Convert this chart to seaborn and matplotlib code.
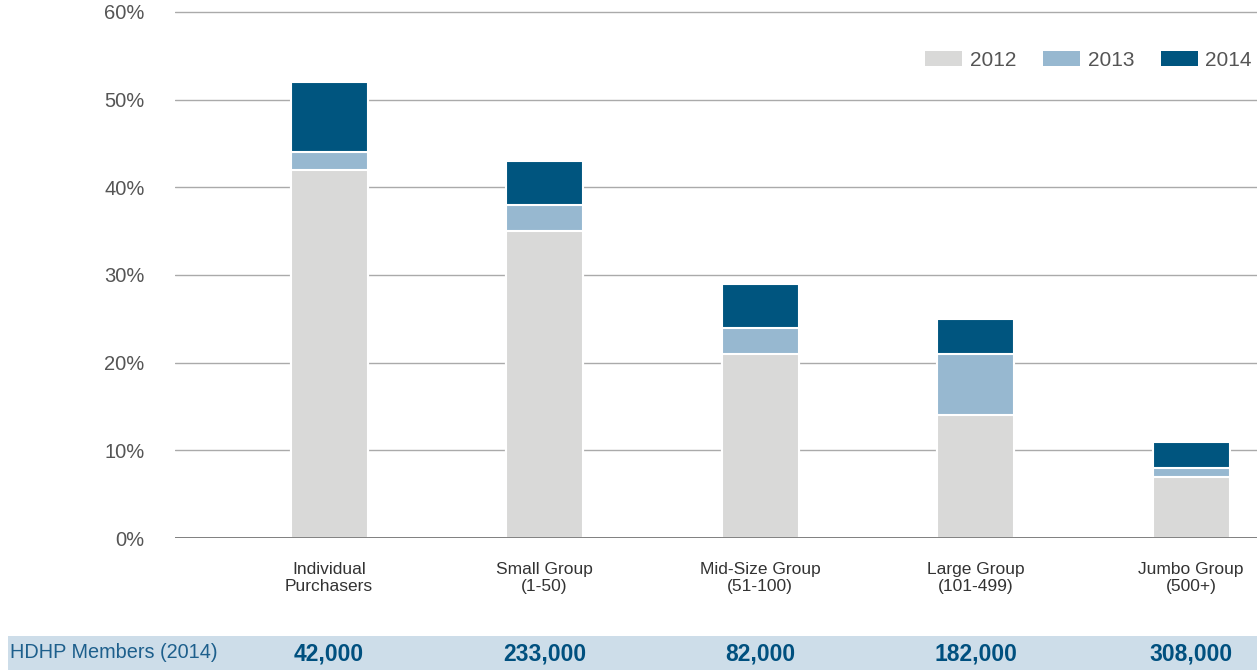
import matplotlib
matplotlib.use("Agg")
import matplotlib.pyplot as plt
import matplotlib.transforms as mtransforms
from matplotlib.patches import Rectangle, Patch
import seaborn as sns

categories = ["Individual\nPurchasers", "Small Group\n(1-50)", "Mid-Size Group\n(51-100)",
              "Large Group\n(101-499)", "Jumbo Group\n(500+)"]
share_2012 = [42, 35, 21, 14, 7]
share_2013 = [44, 38, 24, 21, 8]
share_2014 = [52, 43, 29, 25, 11]
years = ["2012", "2013", "2014"]
members_2014 = ["42,000", "233,000", "82,000", "182,000", "308,000"]
band_label = "HDHP Members (2014)"
yticks = [0, 10, 20, 30, 40, 50, 60]

col_2012 = "#d9d9d8"
col_2013 = "#97b8d0"
col_2014 = "#00557f"

sns.set_style("white")
plt.rcParams["font.family"] = ["Liberation Sans", "DejaVu Sans"]

W, H = 1257, 670
fig = plt.figure(figsize=(W / 100, H / 100), dpi=100)
ax = fig.add_axes([175 / W, 1 - 538 / H, 1 - 175 / W, (538 - 11) / H])

bw = 0.357
for vals, col in [(share_2014, col_2014), (share_2013, col_2013), (share_2012, col_2012)]:
    sns.barplot(x=categories, y=vals, color=col, width=bw, edgecolor="white",
                linewidth=1.5, saturation=1, ax=ax, zorder=3)

ax.set_xlim(-0.715, 4.306)
ax.set_ylim(0, 60.1)
ax.set_yticks(yticks)
ax.set_yticklabels([f"{v}%" for v in yticks])
ax.set_axisbelow(True)
ax.yaxis.grid(True, color="#aaaaaa", linewidth=1)
ax.xaxis.grid(False)
for s in ["top", "right", "left", "bottom"]:
    ax.spines[s].set_visible(False)
ax.axhline(0, color="#777777", linewidth=1.3, zorder=4)
ax.tick_params(axis="y", length=0, pad=22, labelsize=14.5, labelcolor="#555555")
ax.tick_params(axis="x", length=0, pad=17, labelsize=12.5, labelcolor="#333333")
for lab in ax.get_xticklabels():
    lab.set_linespacing(1.2)
ax.set_xlabel("")
ax.set_ylabel("")

handles = [Patch(facecolor=c, edgecolor="none") for c in (col_2012, col_2013, col_2014)]
leg = fig.legend(handles, years, loc="center right", bbox_to_anchor=(1252 / W, 1 - 60 / H),
                 ncol=3, frameon=False, fontsize=15, handlelength=1.75, handleheight=0.72,
                 handletextpad=0.38, columnspacing=1.3, borderpad=0, borderaxespad=0)
for t in leg.get_texts():
    t.set_color("#555555")

band = Rectangle((8 / W, 0), 1 - 8 / W, 34 / H, transform=fig.transFigure,
                 facecolor="#cddde9", edgecolor="none", zorder=-5)
fig.patches.append(band)
fig.text(10 / W, 1 - 653 / H, band_label, ha="left", va="center", fontsize=14.3,
         color="#1d5f8c", zorder=5)
trans = mtransforms.blended_transform_factory(ax.transData, fig.transFigure)
for i, m in enumerate(members_2014):
    fig.text(i, 1 - 654 / H, m, transform=trans, ha="center", va="center", fontsize=16.5,
             fontweight="bold", color="#00507f", zorder=5)

fig.savefig("out.png", dpi=100)
